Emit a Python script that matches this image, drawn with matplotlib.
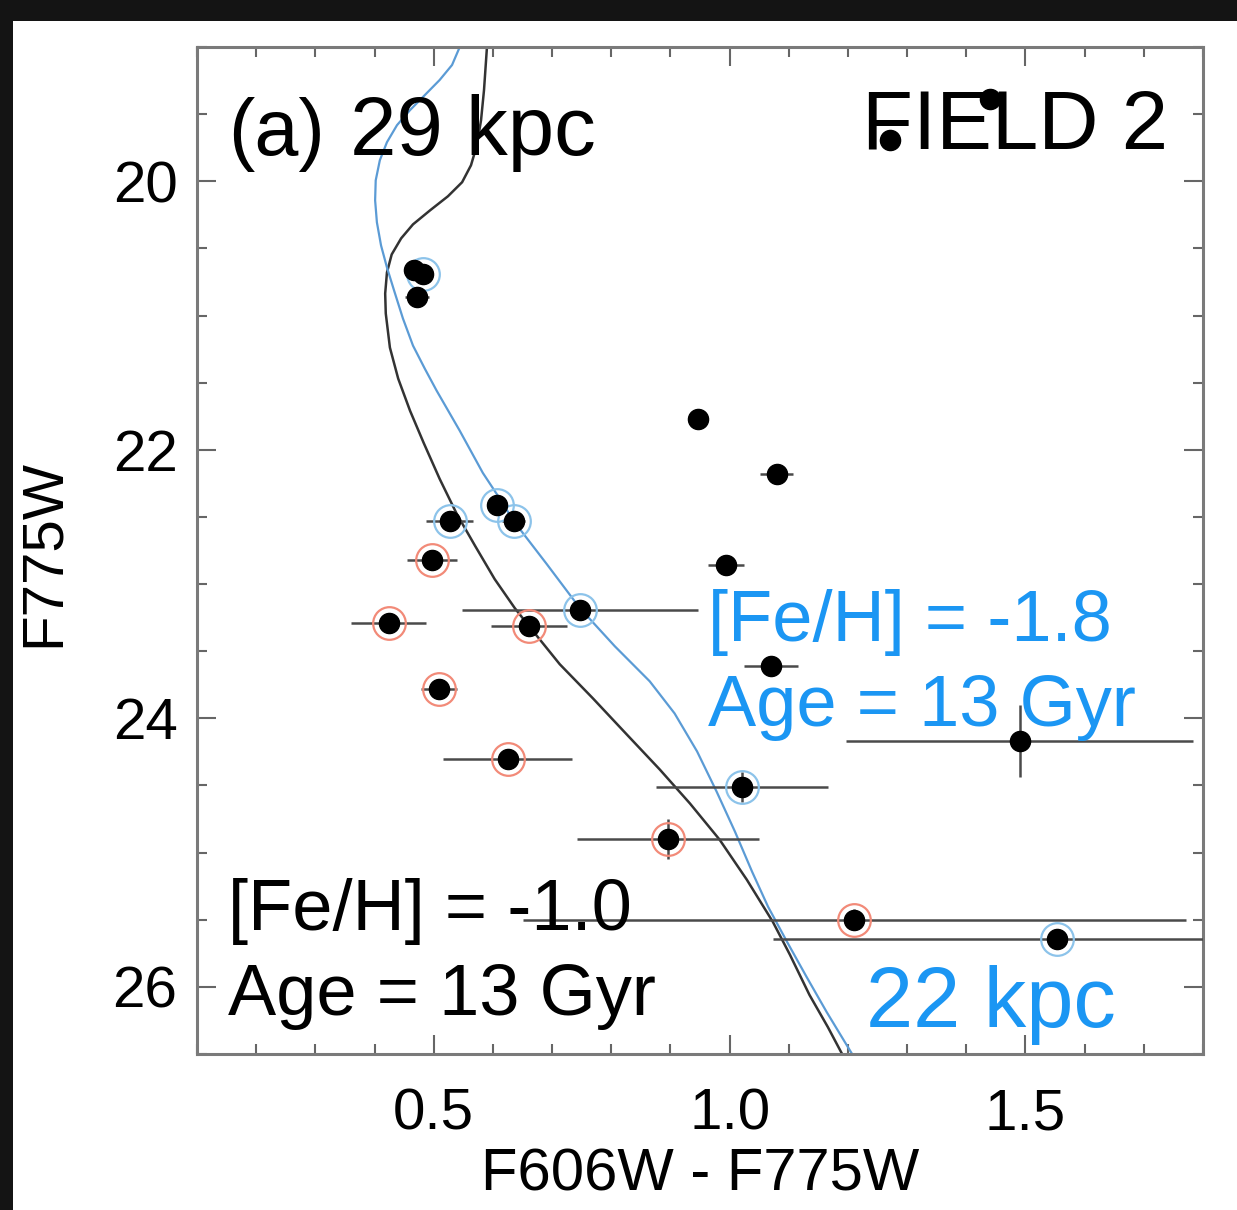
import numpy as np
import matplotlib
matplotlib.use('Agg')
import matplotlib.pyplot as plt
from matplotlib.patches import Rectangle
from matplotlib.ticker import MultipleLocator

plt.rcParams['font.family'] = ['Liberation Sans', 'DejaVu Sans']

# isochrone [Fe/H] = -1.0, 13 Gyr, 29 kpc (black)
iso_black_col = [0.590, 0.585, 0.580, 0.573, 0.563, 0.548, 0.524, 0.494, 0.465, 0.445,
                 0.429, 0.421, 0.418, 0.419, 0.426, 0.440, 0.460, 0.483, 0.510, 0.539,
                 0.570, 0.603, 0.637, 0.661, 0.713, 0.769, 0.826, 0.882, 0.933, 0.983,
                 1.029, 1.073, 1.102, 1.135, 1.166, 1.191]
iso_black_mag = [19.000, 19.321, 19.545, 19.731, 19.881, 20.007, 20.112, 20.216, 20.321, 20.425,
                 20.545, 20.679, 20.836, 20.985, 21.239, 21.470, 21.709, 21.948, 22.216, 22.478,
                 22.716, 22.963, 23.179, 23.313, 23.597, 23.851, 24.119, 24.381, 24.634, 24.903,
                 25.201, 25.515, 25.761, 26.060, 26.299, 26.507]

# isochrone [Fe/H] = -1.8, 13 Gyr, 22 kpc (blue)
iso_blue_col = [0.544, 0.531, 0.510, 0.485, 0.460, 0.438, 0.421, 0.409, 0.402, 0.401,
                0.404, 0.411, 0.421, 0.433, 0.448, 0.465, 0.485, 0.505, 0.544, 0.583,
                0.612, 0.635, 0.691, 0.747, 0.806, 0.865, 0.907, 0.945, 0.978, 1.009,
                1.038, 1.065, 1.097, 1.130, 1.164, 1.208]
iso_blue_mag = [19.000, 19.134, 19.246, 19.358, 19.470, 19.582, 19.709, 19.843, 19.993, 20.142,
                20.306, 20.478, 20.642, 20.813, 21.022, 21.224, 21.396, 21.560, 21.858, 22.172,
                22.366, 22.530, 22.851, 23.179, 23.463, 23.724, 23.963, 24.246, 24.545, 24.843,
                25.142, 25.403, 25.664, 25.925, 26.187, 26.507]

# stars flagged as members of the metal-poor isochrone (blue rings)
blue_col = [0.482, 0.527, 0.607, 0.635, 0.747, 1.021, 1.553]
blue_mag = [20.69, 22.53, 22.41, 22.53, 23.19, 24.51, 25.64]
blue_cerr = [0.01, 0.04, 0.01, 0.02, 0.20, 0.145, 0.48]
blue_merr = [0.01, 0.02, 0.02, 0.02, 0.03, 0.11, 0.05]

# stars flagged as members of the metal-rich isochrone (red rings)
red_col = [0.497, 0.424, 0.509, 0.661, 0.625, 0.896, 1.211]
red_mag = [22.82, 23.29, 23.78, 23.31, 24.30, 24.90, 25.50]
red_cerr = [0.042, 0.063, 0.03, 0.064, 0.109, 0.154, 0.56]
red_merr = [0.02, 0.02, 0.03, 0.03, 0.05, 0.15, 0.08]

# remaining stars
other_col = [0.467, 0.472, 0.946, 1.080, 0.994, 1.070, 1.490, 1.440, 1.271]
other_mag = [20.66, 20.86, 21.77, 22.18, 22.86, 23.61, 24.17, 19.39, 19.69]
other_cerr = [0.01, 0.02, 0.01, 0.028, 0.031, 0.046, 0.293, 0.01, 0.01]
other_merr = [0.01, 0.01, 0.01, 0.02, 0.02, 0.03, 0.27, 0.01, 0.01]

W, H = 1237, 1210
fig = plt.figure(figsize=(W / 100, H / 100), dpi=100)
fig.patch.set_facecolor('#141414')
fig.add_artist(Rectangle((13 / W, 0), 1, 1 - 21 / H, transform=fig.transFigure,
                         facecolor='white', edgecolor='none', zorder=-1))

ax = fig.add_axes([197 / W, 1 - 1054 / H, 1006 / W, 1007 / H])

ax.plot(iso_black_col, iso_black_mag, color='#333333', lw=1.8, zorder=2)
ax.plot(iso_blue_col, iso_blue_mag, color='#5b9bd5', lw=1.6, zorder=2)

ebar = dict(fmt='none', ecolor='#4a4a4a', elinewidth=1.8, capsize=0, zorder=3)
for c, m, ce, me in [(blue_col, blue_mag, blue_cerr, blue_merr),
                     (red_col, red_mag, red_cerr, red_merr),
                     (other_col, other_mag, other_cerr, other_merr)]:
    ax.errorbar(c, m, xerr=ce, yerr=me, **ebar)

ring = dict(ls='none', marker='o', ms=23.5, mfc='none', mew=1.6, zorder=4)
ax.plot(blue_col, blue_mag, mec='#8cc3ea', **ring)
ax.plot(red_col, red_mag, mec='#f28a78', **ring)

dot = dict(ls='none', marker='o', ms=14.5, color='black', zorder=5)
for c, m in [(blue_col, blue_mag), (red_col, red_mag), (other_col, other_mag)]:
    ax.plot(c, m, **dot)

ax.set_xlim(0.1, 1.8)
ax.set_ylim(26.5, 19.0)
ax.set_xticks([0.5, 1.0, 1.5])
ax.set_yticks([20, 22, 24, 26])
ax.xaxis.set_minor_locator(MultipleLocator(0.1))
ax.yaxis.set_minor_locator(MultipleLocator(0.5))
ax.tick_params(which='both', direction='in', top=True, right=True,
               color='#666666', width=1.5, labelsize=42)
ax.tick_params(which='major', length=14)
ax.tick_params(which='minor', length=7)
ax.tick_params(axis='x', pad=24)
ax.tick_params(axis='y', pad=14)
for s in ax.spines.values():
    s.set_color('#7a7a7a')
    s.set_linewidth(2.2)

ax.set_xlabel('F606W - F775W', fontsize=43)
ax.set_ylabel('F775W', fontsize=42)
ax.xaxis.set_label_coords(0.5, -0.093)
ax.yaxis.set_label_coords(-0.125, 0.498)

blue_txt = '#1b96f3'
ax.text(0.152, 19.806, '(a)', fontsize=57, va='baseline', zorder=6)
ax.text(0.358, 19.806, '29 kpc', fontsize=60, va='baseline', zorder=6)
ax.text(1.223, 19.754, 'FIELD 2', fontsize=60, va='baseline', zorder=1)
ax.text(0.963, 23.425, '[Fe/H] = -1.8', fontsize=52, color=blue_txt, va='baseline', zorder=6)
ax.text(0.963, 24.06, 'Age = 13 Gyr', fontsize=52, color=blue_txt, va='baseline', zorder=6)
ax.text(0.152, 25.575, '[Fe/H] = -1.0', fontsize=52, va='baseline', zorder=6)
ax.text(0.152, 26.209, 'Age = 13 Gyr', fontsize=52, va='baseline', zorder=6)
ax.text(1.230, 26.30, '22 kpc', fontsize=61, color=blue_txt, va='baseline', zorder=6)

fig.savefig('out.png', dpi=100, facecolor=fig.get_facecolor())
